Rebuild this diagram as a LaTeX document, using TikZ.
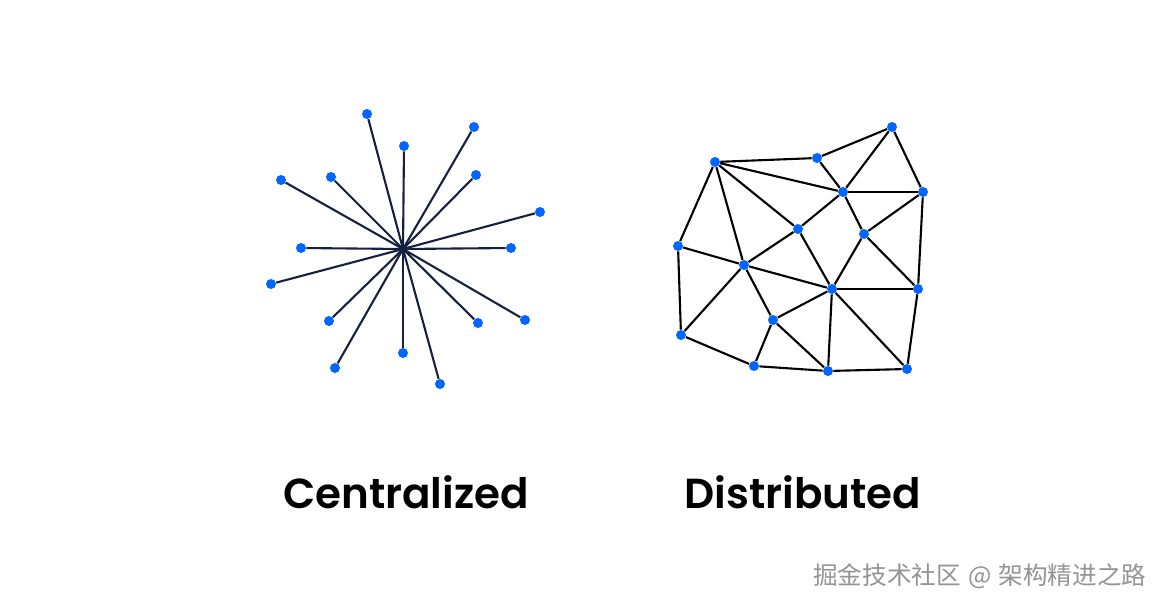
\documentclass[tikz,border=0pt]{standalone}
\usepackage{fontspec}
\usepackage{xcolor}
\usepackage{tikz}
\usetikzlibrary{positioning}
\setmainfont{Poppins SemiBold}
\newfontfamily\cjk{Noto Sans CJK SC}
\definecolor{dotblue}{RGB}{0,102,255}
\definecolor{spoke}{RGB}{22,32,64}

\begin{document}
\begin{tikzpicture}[x=0.02cm,y=-0.02cm,
    dot/.style={circle,fill=dotblue,inner sep=0pt,minimum size=0.2cm},
    spokeline/.style={draw=spoke,line width=1.2pt},
    meshline/.style={draw=black,line width=1.2pt},
    caption/.style={anchor=base,font=\fontsize{23.9}{28}\selectfont}]
  \useasboundingbox[fill=white] (0,0) rectangle (1166,608);

  % Centralized: nodes
  \coordinate (hub) at (403,249);
  \node[dot] (s1) at (367,114) {};
  \node[dot] (s2) at (404,146) {};
  \node[dot] (s3) at (474,127) {};
  \node[dot] (s4) at (476,175) {};
  \node[dot] (s5) at (540,212) {};
  \node[dot] (s6) at (511,248) {};
  \node[dot] (s7) at (525,320) {};
  \node[dot] (s8) at (478,323) {};
  \node[dot] (s9) at (440,384) {};
  \node[dot] (s10) at (403,353) {};
  \node[dot] (s11) at (335,368) {};
  \node[dot] (s12) at (329,321) {};
  \node[dot] (s13) at (271,284) {};
  \node[dot] (s14) at (301,248) {};
  \node[dot] (s15) at (281,180) {};
  \node[dot] (s16) at (331,177) {};

  % Centralized: spokes
  \foreach \i in {1,...,16}
    \draw[spokeline] (hub) -- (s\i);

  % Distributed: nodes
  \node[dot] (A) at (715,162) {};
  \node[dot] (B) at (817,158) {};
  \node[dot] (C) at (892,127) {};
  \node[dot] (D) at (843,192) {};
  \node[dot] (E) at (923,192) {};
  \node[dot] (F) at (798,229) {};
  \node[dot] (G) at (864,234) {};
  \node[dot] (H) at (678,246) {};
  \node[dot] (I) at (744,265) {};
  \node[dot] (J) at (832,289) {};
  \node[dot] (K) at (918,289) {};
  \node[dot] (L) at (773,320) {};
  \node[dot] (M) at (681,335) {};
  \node[dot] (N) at (754,366) {};
  \node[dot] (O) at (828,371) {};
  \node[dot] (P) at (907,369) {};

  % Distributed: links
  \foreach \a/\b in {A/B,B/C,A/D,B/D,C/D,C/E,D/E,A/F,F/D,D/G,G/E,A/H,A/I,H/I,
                     I/F,F/J,G/J,G/K,E/K,I/J,J/K,H/M,I/M,I/L,L/J,L/N,L/O,J/O,
                     J/P,K/P,M/N,N/O,O/P}
    \draw[meshline] (\a) -- (\b);

  % Labels
  \node[caption] (central) at (406,508) {Centralized};
  \node[caption] (distrib) at (803,508) {Distributed};
  \node[anchor=west,inner sep=0pt,text=black!42,font=\cjk\fontsize{14}{16}\selectfont] (mark) at (813,576)
    {掘金技术社区\hspace{1pt} @ \hspace{1pt}架构精进之路};
\end{tikzpicture}
\end{document}
